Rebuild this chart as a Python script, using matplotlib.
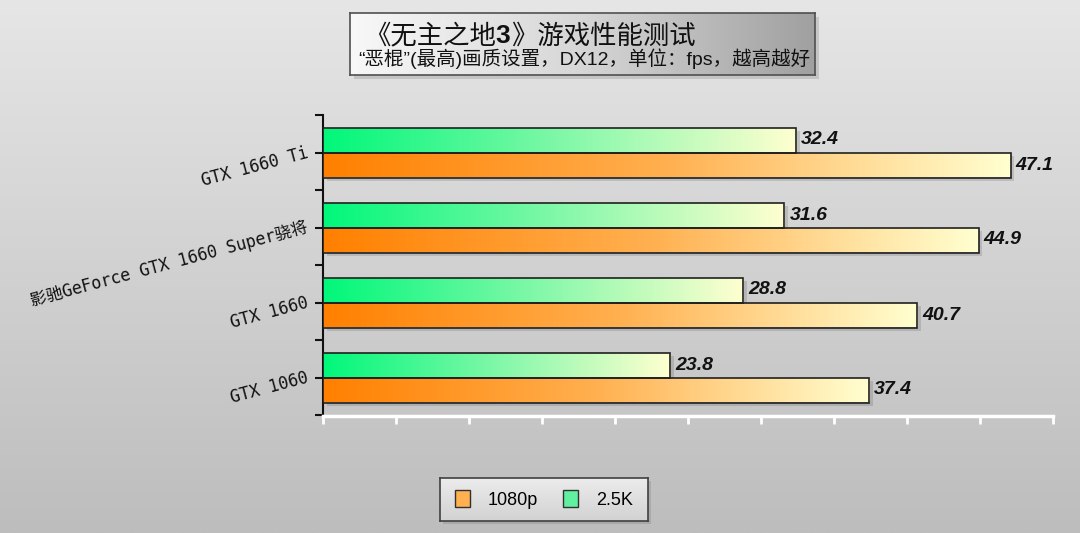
import numpy as np
import matplotlib
matplotlib.use('Agg')
import matplotlib.pyplot as plt
from matplotlib.colors import LinearSegmentedColormap
from matplotlib.patches import Patch, Rectangle
from matplotlib.transforms import offset_copy

# data
gpus = ['GTX 1660 Ti', '影驰GeForce GTX 1660 Super骁将', 'GTX 1660', 'GTX 1060']
fps_1080p = [47.1, 44.9, 40.7, 37.4]
fps_25k = [32.4, 31.6, 28.8, 23.8]
series_names = ['1080p', '2.5K']

title_parts = ['《无主之地', '3', '》游戏性能测试']
subtitle = '“恶棍”(最高)画质设置，DX12，单位：fps，越高越好'

W, H = 1080, 533
fig = plt.figure(figsize=(W / 100, H / 100), dpi=100)
cjk = ['Liberation Sans', 'Noto Sans CJK SC']

# gradient background
bg = fig.add_axes([0, 0, 1, 1], zorder=-10)
bg_cmap = LinearSegmentedColormap.from_list('bg', ['#e6e6e6', '#bdbdbd'])
bg.imshow(np.linspace(0, 1, 256).reshape(-1, 1), aspect='auto', cmap=bg_cmap,
          extent=[0, 1, 0, 1], origin='upper')
bg.set_axis_off()

# title box
tb = fig.add_axes([350 / W, 1 - 75 / H, 465 / W, 62 / H], zorder=2)
tb_cmap = LinearSegmentedColormap.from_list('tb', ['#f8f8f8', '#d6d6d6', '#a0a0a0'])
tb.imshow(np.linspace(0, 1, 256).reshape(1, -1), aspect='auto', cmap=tb_cmap, extent=[0, 1, 0, 1])
tb.set_xticks([])
tb.set_yticks([])
for s in tb.spines.values():
    s.set_color('#505050')
    s.set_linewidth(1.2)
fig.patches.append(Rectangle((354 / W, 1 - 79 / H), 465 / W, 62 / H, transform=fig.transFigure,
                             facecolor='#000000', alpha=0.12, zorder=1))

# title drawn in pieces so the "3" can be bold
renderer = fig.canvas.get_renderer()
trans = tb.transAxes
x_off = 0
for i, part in enumerate(title_parts):
    t = tb.text(0.03, 0.63, part, transform=offset_copy(trans, fig=fig, x=x_off, units='dots'),
                fontsize=19, family=cjk, va='center', ha='left', color='#111111',
                fontweight='bold' if part == '3' else 'normal')
    x_off += t.get_window_extent(renderer).width
tb.text(0.018, 0.27, subtitle, transform=trans, fontsize=14, family=cjk,
        va='center', ha='left', color='#111111')

# main axes
ax = fig.add_axes([323 / W, 1 - 415 / H, 730 / W, 300 / H], zorder=3)
ax.set_facecolor('none')

cmap_orange = LinearSegmentedColormap.from_list('o', ['#ff8000', '#ffb050', '#ffffd0'])
cmap_green = LinearSegmentedColormap.from_list('g', ['#00f77a', '#80f8a8', '#ffffd0'])
grad = np.linspace(0, 1, 256).reshape(1, -1)
bar_h = 1 / 3
y = np.arange(len(gpus))

def grad_bars(vals, offset, cmap):
    bars = ax.barh(y + offset, vals, height=bar_h, facecolor='none',
                   edgecolor='#202020', linewidth=1.2, zorder=4)
    for b, v in zip(bars, vals):
        # soft shadow
        ax.add_patch(Rectangle((b.get_x() + 0.25, b.get_y() + 0.05), v, bar_h,
                               facecolor='#000000', alpha=0.12, linewidth=0, zorder=2))
        im = ax.imshow(grad, aspect='auto', cmap=cmap,
                       extent=[0, v, b.get_y() + bar_h, b.get_y()], zorder=3)
        im.set_clip_path(b)
        ax.text(v + 0.35, b.get_y() + bar_h / 2, f'{v:.1f}', va='center', ha='left',
                fontsize=14, fontweight='bold', fontstyle='italic',
                family='Liberation Sans', color='#111111', zorder=5)
    return bars

grad_bars(fps_25k, -bar_h / 2, cmap_green)
grad_bars(fps_1080p, bar_h / 2, cmap_orange)
ax.set_xlim(0, 50)
ax.set_ylim(len(gpus) - 0.5, -0.5)

ax.set_xticks(np.arange(0, 51, 5))
ax.set_xticklabels([])
ax.set_yticks(y)
ax.set_yticklabels(gpus, rotation=15, family=['DejaVu Sans Mono', 'Noto Sans CJK SC'],
                   fontsize=12, color='#111111', rotation_mode='anchor', ha='right', va='center')
ax.set_yticks(np.arange(-0.5, len(gpus), 1), minor=True)
ax.tick_params(axis='y', which='both', length=6, width=1.5, color='#111111', pad=5)
ax.tick_params(axis='x', length=6, width=2, color='white', direction='out')
ax.spines['top'].set_visible(False)
ax.spines['right'].set_visible(False)
ax.spines['left'].set_color('#111111')
ax.spines['left'].set_linewidth(1.5)
ax.spines['bottom'].set_color('white')
ax.spines['bottom'].set_linewidth(2.5)
ax.spines['bottom'].set_position(('outward', 1))

# legend box
lb = fig.add_axes([440 / W, 1 - 521 / H, 208 / W, 43 / H], zorder=2)
lb_cmap = LinearSegmentedColormap.from_list('lb', ['#ececec', '#d2d2d2'])
lb.imshow(np.linspace(0, 1, 64).reshape(-1, 1), aspect='auto', cmap=lb_cmap,
          extent=[0, 1, 0, 1], origin='upper')
lb.set_xticks([])
lb.set_yticks([])
for s in lb.spines.values():
    s.set_color('#404040')
    s.set_linewidth(1.2)
fig.patches.append(Rectangle((443 / W, 1 - 524 / H), 208 / W, 43 / H, transform=fig.transFigure,
                             facecolor='#000000', alpha=0.10, zorder=1))

handles = [Patch(facecolor='#ffb050', edgecolor='#303030', label=series_names[0]),
           Patch(facecolor='#60f0a0', edgecolor='#303030', label=series_names[1])]
leg = lb.legend(handles=handles, loc='center', ncol=2, frameon=False,
                prop={'family': 'Liberation Sans', 'size': 13},
                handlelength=0.8, handleheight=1.1, handletextpad=1.0, columnspacing=1.4)

fig.savefig('out.png', dpi=100)
